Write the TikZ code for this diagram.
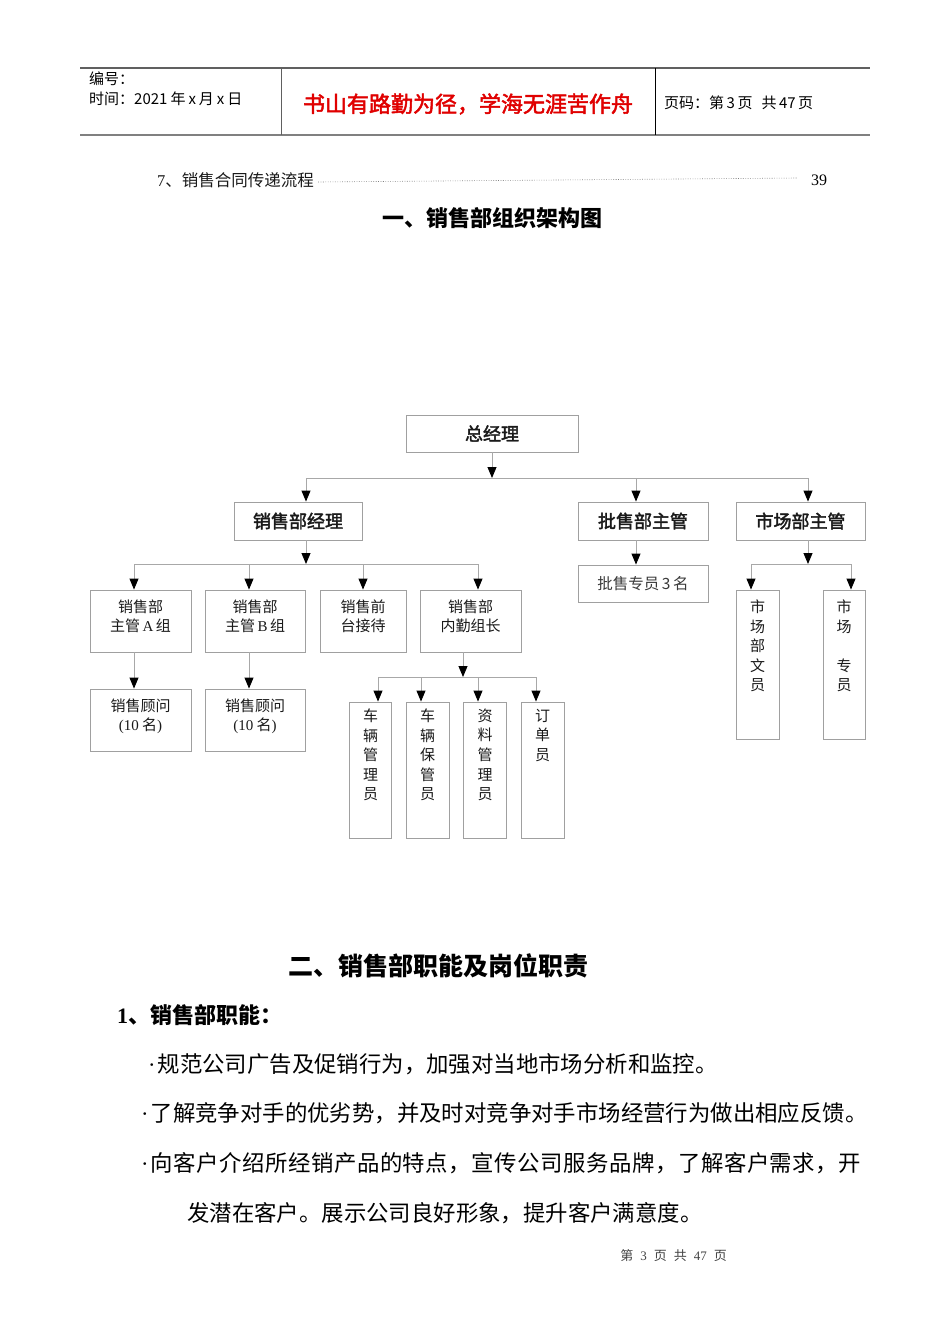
\documentclass[tikz,border=0pt]{standalone}
\usepackage{fontspec}
\setmainfont{Noto Sans CJK SC}
\newfontfamily\cjkwide[LetterSpace=2.4]{Noto Sans CJK SC}
\newfontfamily\cjkmed[FakeBold=2.2]{Noto Sans CJK SC}
\newfontfamily\lser{Liberation Serif}
\usetikzlibrary{arrows.meta}
\definecolor{boxgray}{HTML}{A0A0A0}
\definecolor{linegray}{HTML}{A8A8A8}
\definecolor{hdrgray}{HTML}{606060}
\definecolor{redtxt}{HTML}{E00000}
\definecolor{txtdark}{HTML}{1A1A1A}
\newcommand{\mdot}{{\lser ·}\kern2pt}
\tikzset{
  orgbox/.style={draw=boxgray, line width=0.9pt, inner sep=0pt, align=center, text=txtdark},
  conn/.style={draw=linegray, line width=0.9pt},
  arr/.style={conn, -{Triangle[width=9pt,length=11pt,black]}},
  lvtop/.style={orgbox, font=\cjkmed\fontsize{18}{22}\selectfont},
  lbl/.style={inner sep=0pt, align=center, text=txtdark, font=\fontsize{15}{19.5}\selectfont},
  vtext/.style={inner sep=0pt, align=center, text=txtdark, font=\fontsize{15}{19.6}\selectfont, anchor=north},
  hdr/.style={inner sep=0pt, anchor=west, font=\fontsize{15}{17}\selectfont, text=black},
  body/.style={inner sep=0pt, anchor=west, font=\fontsize{22.4}{26}\selectfont, text=black},
}
\begin{document}
\begin{tikzpicture}[x=1pt,y=-1pt]
\useasboundingbox[fill=white] (0,0) rectangle (950,1344);

% ---------- header ----------
\coordinate (h1) at (80,68);  \coordinate (h2) at (870,68);
\coordinate (h3) at (80,135); \coordinate (h4) at (870,135);
\draw[hdrgray, line width=1.2pt] (h1) -- (h2);
\draw[gray, line width=1.6pt] (h3) -- (h4);
\coordinate (s1a) at (281,68); \coordinate (s1b) at (281,135);
\coordinate (s2a) at (655,68); \coordinate (s2b) at (655,135);
\draw[hdrgray, line width=0.8pt] (s1a) -- (s1b);
\draw[black, line width=0.8pt] (s2a) -- (s2b);
\node[hdr] (hno) at (89,79) {编号：};
\node[hdr] (htime) at (89,99) {时间：2021\hspace{3pt}年\hspace{3pt}x\hspace{3pt}月\hspace{3pt}x\hspace{3pt}日};
\node[inner sep=0pt, text=redtxt, font=\cjkmed\fontsize{22}{24}\selectfont] (motto) at (468,104) {书山有路勤为径，学海无涯苦作舟};
\node[hdr] (hpage) at (664,103) {页码：第\hspace{2.5pt}3\hspace{2.5pt}页\hspace{9pt}共\hspace{2.5pt}47\hspace{2.5pt}页};

% ---------- TOC line ----------
\node[inner sep=0pt, anchor=west, font=\fontsize{16.5}{18}\selectfont, text=txtdark] (toc) at (157,180) {{\lser 7}、销售合同传递流程};
\node[inner sep=0pt, anchor=west, font=\lser\fontsize{16}{18}\selectfont] (tocnum) at (811,180) {39};
\draw[gray, line width=0.6pt, dash pattern=on 0.8pt off 1.6pt] (toc.east) ++(4,2) -- ([xshift=-14pt,yshift=2pt]tocnum.west);

% ---------- title ----------
\node[inner sep=0pt, font=\bfseries\fontsize{22}{26}\selectfont] (t1) at (492,218) {一、销售部组织架构图};

% ---------- org chart ----------
\node[lvtop, minimum width=172pt, minimum height=37pt] (gm) at (492,433.5) {总经理};
\node[lvtop, minimum width=128pt, minimum height=38pt] (sm) at (298,521) {销售部经理};
\node[lvtop, minimum width=130pt, minimum height=38pt] (pm) at (643,521) {批售部主管};
\node[lvtop, minimum width=129pt, minimum height=38pt] (mm) at (800.5,521) {市场部主管};

\node[orgbox, minimum width=101pt, minimum height=62pt] (sa) at (140.5,621) {};
\node[orgbox, minimum width=100pt, minimum height=62pt] (sb) at (255,621) {};
\node[orgbox, minimum width=86pt, minimum height=62pt] (fr) at (363,621) {};
\node[orgbox, minimum width=101pt, minimum height=62pt] (nq) at (470.5,621) {};
\node[lbl] (sat) at (140.5,616.5) {销售部\\主管\,{\lser A}\,组};
\node[lbl] (sbt) at (255,616.5) {销售部\\主管\,{\lser B}\,组};
\node[lbl] (frt) at (363,616.5) {销售前\\台接待};
\node[lbl] (nqt) at (470.5,616.5) {销售部\\内勤组长};

\node[orgbox, minimum width=101pt, minimum height=62pt] (ca) at (140.5,720) {};
\node[orgbox, minimum width=100pt, minimum height=62pt] (cb) at (255,720) {};
\node[lbl] (cat) at (140.5,716.5) {销售顾问\\{\lser (10} 名{\lser )}};
\node[lbl] (cbt) at (255,716.5) {销售顾问\\{\lser (10} 名{\lser )}};

\node[orgbox, minimum width=42pt, minimum height=136pt] (v1) at (370.5,770) {};
\node[orgbox, minimum width=43pt, minimum height=136pt] (v2) at (427.5,770) {};
\node[orgbox, minimum width=43pt, minimum height=136pt] (v3) at (485,770) {};
\node[orgbox, minimum width=43pt, minimum height=136pt] (v4) at (542.5,770) {};
\node[vtext] (v1t) at ([yshift=-7pt]v1.north) {车\\辆\\管\\理\\员};
\node[vtext] (v2t) at ([yshift=-7pt]v2.north) {车\\辆\\保\\管\\员};
\node[vtext] (v3t) at ([yshift=-7pt]v3.north) {资\\料\\管\\理\\员};
\node[vtext] (v4t) at ([yshift=-7pt]v4.north) {订\\单\\员};

\node[orgbox, minimum width=130pt, minimum height=37pt, font=\fontsize{15.5}{18}\selectfont, text=hdrgray!60!black] (ps) at (643,583.5) {批售专员\,3\,名};

\node[orgbox, minimum width=43pt, minimum height=149pt] (m1) at (757.5,664.5) {};
\node[orgbox, minimum width=42pt, minimum height=149pt] (m2) at (844,664.5) {};
\node[vtext] (m1t) at ([yshift=-10pt]m1.north) {市\\场\\部\\文\\员};
\node[vtext] (m2t) at ([yshift=-10pt]m2.north) {市\\场\\\mbox{}\\专\\员};

% bus coordinates
\coordinate (b1) at (492,478);
\coordinate (b1l) at (306,478);
\coordinate (b1m) at (636,478);
\coordinate (b1r) at (808,478);
\coordinate (b2) at (306,564);
\coordinate (b2a) at (134,564);
\coordinate (b2b) at (249,564);
\coordinate (b2c) at (363,564);
\coordinate (b2d) at (478,564);
\coordinate (b4) at (463,677);
\coordinate (b4a) at (378,677);
\coordinate (b4b) at (421,677);
\coordinate (b4c) at (478,677);
\coordinate (b4d) at (536,677);
\coordinate (b5) at (808,564);
\coordinate (b5a) at (751,564);
\coordinate (b5b) at (851,564);

% level 1 -> 2
\draw[arr] (gm.south) -- (b1);
\draw[conn] (b1l) -- (b1r);
\draw[arr] (b1l) -- (b1l |- sm.north);
\draw[arr] (b1m) -- (b1m |- pm.north);
\draw[arr] (b1r) -- (b1r |- mm.north);

% sales manager
\draw[arr] (sm.south -| b2) -- (b2);
\draw[conn] (b2a) -- (b2d);
\draw[arr] (b2a) -- (b2a |- sa.north);
\draw[arr] (b2b) -- (b2b |- sb.north);
\draw[arr] (b2c) -- (b2c |- fr.north);
\draw[arr] (b2d) -- (b2d |- nq.north);
\draw[arr] (sa.south -| b2a) -- (ca.north -| b2a);
\draw[arr] (sb.south -| b2b) -- (cb.north -| b2b);

% inner team
\draw[arr] (nq.south -| b4) -- (b4);
\draw[conn] (b4a) -- (b4d);
\draw[arr] (b4a) -- (b4a |- v1.north);
\draw[arr] (b4b) -- (b4b |- v2.north);
\draw[arr] (b4c) -- (b4c |- v3.north);
\draw[arr] (b4d) -- (b4d |- v4.north);

% wholesale
\draw[arr] (pm.south -| b1m) -- (ps.north -| b1m);

% market
\draw[arr] (mm.south -| b5) -- (b5);
\draw[conn] (b5a) -- (b5b);
\draw[arr] (b5a) -- (b5a |- m1.north);
\draw[arr] (b5b) -- (b5b |- m2.north);

% ---------- section 2 ----------
\node[inner sep=0pt, font=\bfseries\fontsize{25}{28}\selectfont] (t2) at (438.5,966) {二、销售部职能及岗位职责};
\node[inner sep=0pt, anchor=west, font=\bfseries\fontsize{22}{24}\selectfont] (t3) at (117,1015) {{\lser\bfseries 1}、销售部职能：};
\node[body] (l1) at (148,1064) {\mdot 规范公司广告及促销行为，加强对当地市场分析和监控。};
\node[body] (l2) at (141,1113) {\mdot 了解竞争对手的优劣势，并及时对竞争对手市场经营行为做出相应反馈。};
\node[body, font=\cjkwide\fontsize{22.4}{26}\selectfont] (l3) at (141,1163) {\mdot 向客户介绍所经销产品的特点，宣传公司服务品牌，了解客户需求，开};
\node[body] (l4) at (187,1213) {发潜在客户。展示公司良好形象，提升客户满意度。};

% ---------- footer ----------
\node[inner sep=0pt, font=\fontsize{13}{15}\selectfont, text=hdrgray!70!black] (foot) at (673.5,1256) {第\hspace{7pt}{\lser 3}\hspace{7pt}页\hspace{7pt}共\hspace{7pt}{\lser 47}\hspace{7pt}页};
\end{tikzpicture}
\end{document}
